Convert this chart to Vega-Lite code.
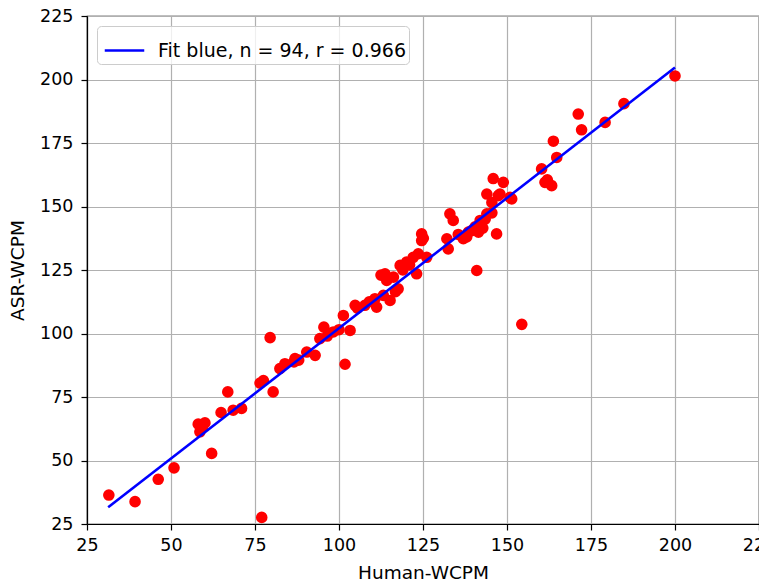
{
  "$schema": "https://vega.github.io/schema/vega-lite/v6.json",
  "autosize": "none",
  "width": 672,
  "height": 508,
  "padding": {"left": 87, "top": 16, "right": 0, "bottom": 58},
  "background": "white",
  "config": {
    "font": "DejaVu Sans",
    "view": {"stroke": "black", "strokeWidth": 1.2},
    "axis": {
      "domainColor": "black", "domainWidth": 1.2,
      "tickColor": "black", "tickSize": 6, "tickWidth": 1.2,
      "gridColor": "#b0b0b0", "gridWidth": 1.2, "gridOpacity": 1,
      "labelFont": "DejaVu Sans", "labelFontSize": 17.5, "labelColor": "black", "labelFlush": false,
      "titleFont": "DejaVu Sans", "titleFontSize": 18.5, "titleFontWeight": "normal", "titleColor": "black"
    }
  },
  "datasets": {
    "pts": [
      {"h": 31.5, "a": 36.4}, {"h": 39.3, "a": 33.8}, {"h": 46.2, "a": 42.6}, {"h": 50.9, "a": 47.1},
      {"h": 62.1, "a": 52.8}, {"h": 58.6, "a": 61.3}, {"h": 58.1, "a": 64.3}, {"h": 60.1, "a": 64.8},
      {"h": 59.3, "a": 62.8}, {"h": 64.9, "a": 68.9}, {"h": 66.9, "a": 77.0}, {"h": 68.5, "a": 69.8},
      {"h": 71.0, "a": 70.5}, {"h": 77.0, "a": 27.6}, {"h": 76.5, "a": 80.5}, {"h": 77.5, "a": 81.5},
      {"h": 80.4, "a": 77.0}, {"h": 79.5, "a": 98.4}, {"h": 82.4, "a": 86.2}, {"h": 83.9, "a": 88.1},
      {"h": 86.6, "a": 88.8}, {"h": 86.9, "a": 90.1}, {"h": 90.4, "a": 92.7}, {"h": 92.9, "a": 91.4},
      {"h": 94.3, "a": 98.0}, {"h": 95.5, "a": 102.5}, {"h": 88.0, "a": 89.5}, {"h": 96.5, "a": 99.0},
      {"h": 98.3, "a": 100.6}, {"h": 100.0, "a": 101.5}, {"h": 101.3, "a": 107.1}, {"h": 101.8, "a": 87.9},
      {"h": 103.3, "a": 101.2}, {"h": 104.8, "a": 111.1}, {"h": 105.5, "a": 110.0}, {"h": 107.7, "a": 111.1},
      {"h": 109.0, "a": 112.5}, {"h": 110.7, "a": 113.7}, {"h": 111.2, "a": 110.4}, {"h": 113.2, "a": 115.0},
      {"h": 115.2, "a": 113.0}, {"h": 112.5, "a": 123.0}, {"h": 113.7, "a": 123.5}, {"h": 114.2, "a": 120.9},
      {"h": 116.2, "a": 122.2}, {"h": 117.6, "a": 117.6}, {"h": 116.8, "a": 116.5}, {"h": 118.2, "a": 126.8},
      {"h": 119.0, "a": 125.0}, {"h": 120.1, "a": 128.1}, {"h": 121.0, "a": 127.0}, {"h": 122.1, "a": 130.0},
      {"h": 123.6, "a": 131.4}, {"h": 123.1, "a": 123.5}, {"h": 124.6, "a": 139.2}, {"h": 124.6, "a": 136.6},
      {"h": 125.1, "a": 137.5}, {"h": 126.1, "a": 130.0}, {"h": 132.1, "a": 137.3}, {"h": 132.5, "a": 133.3},
      {"h": 133.0, "a": 147.1}, {"h": 134.0, "a": 144.5}, {"h": 135.5, "a": 139.0}, {"h": 137.0, "a": 137.3},
      {"h": 138.0, "a": 138.0}, {"h": 138.5, "a": 139.9}, {"h": 139.5, "a": 140.5}, {"h": 140.5, "a": 142.0},
      {"h": 141.5, "a": 139.9}, {"h": 142.0, "a": 144.5}, {"h": 142.8, "a": 141.5}, {"h": 143.5, "a": 145.0},
      {"h": 144.0, "a": 147.1}, {"h": 145.5, "a": 147.5}, {"h": 146.9, "a": 139.2}, {"h": 141.0, "a": 124.8},
      {"h": 145.9, "a": 161.0}, {"h": 148.9, "a": 159.5}, {"h": 144.0, "a": 154.9}, {"h": 147.4, "a": 154.3},
      {"h": 147.9, "a": 154.9}, {"h": 145.5, "a": 151.6}, {"h": 150.9, "a": 153.6}, {"h": 151.4, "a": 153.0},
      {"h": 154.4, "a": 103.6}, {"h": 160.3, "a": 164.8}, {"h": 161.3, "a": 159.5}, {"h": 162.0, "a": 160.5},
      {"h": 163.3, "a": 158.2}, {"h": 163.8, "a": 175.7}, {"h": 164.8, "a": 169.3}, {"h": 171.2, "a": 186.4},
      {"h": 172.2, "a": 180.2}, {"h": 179.2, "a": 183.1}, {"h": 184.8, "a": 190.5}, {"h": 200.0, "a": 201.4}
    ],
    "fit": [
      {"h": 31.3, "a": 31.6, "s": "Fit blue, n = 94, r = 0.966"},
      {"h": 200.0, "a": 204.7, "s": "Fit blue, n = 94, r = 0.966"}
    ]
  },
  "layer": [
    {
      "data": {"name": "pts"},
      "mark": {"type": "circle", "color": "red", "size": 135, "opacity": 1},
      "encoding": {
        "x": {"field": "h", "type": "quantitative", "scale": {"domain": [25, 225], "nice": false},
              "axis": {"values": [25, 50, 75, 100, 125, 150, 175, 200, 225], "title": "Human-WCPM", "labelPadding": 6, "titlePadding": 10}},
        "y": {"field": "a", "type": "quantitative", "scale": {"domain": [25, 225], "nice": false},
              "axis": {"values": [25, 50, 75, 100, 125, 150, 175, 200, 225], "title": "ASR-WCPM", "labelPadding": 8, "titlePadding": 12}}
      }
    },
    {
      "data": {"name": "fit"},
      "mark": {"type": "line", "strokeWidth": 2.6},
      "encoding": {
        "x": {"field": "h", "type": "quantitative"},
        "y": {"field": "a", "type": "quantitative"},
        "color": {"field": "s", "type": "nominal",
          "scale": {"domain": ["Fit blue, n = 94, r = 0.966"], "range": ["blue"]},
          "legend": {"title": null, "orient": "top-left", "offset": 10, "padding": 3,
            "fillColor": "rgba(255,255,255,0.8)", "strokeColor": "#cccccc", "cornerRadius": 4,
            "symbolType": "stroke", "symbolSize": 1560, "symbolStrokeWidth": 2.6, "symbolOffset": 3,
            "labelFontSize": 19, "labelColor": "black", "labelOffset": 12, "labelLimit": 0, "labelFont": "DejaVu Sans"}}
      }
    }
  ]
}
